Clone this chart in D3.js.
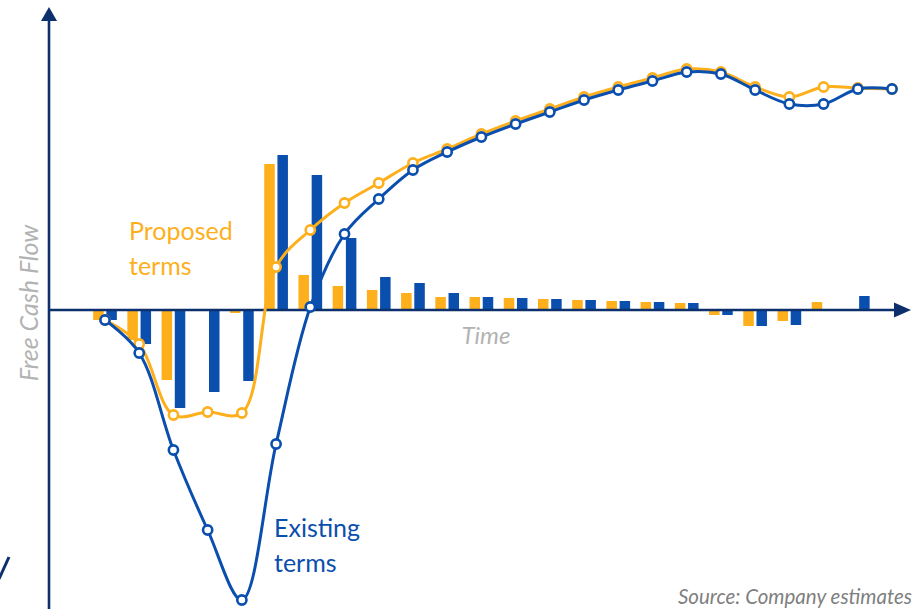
<!DOCTYPE html>
<html>
<head>
<meta charset="utf-8">
<script src="https://cdn.jsdelivr.net/npm/d3@7"></script>
<style>
  html, body { margin: 0; padding: 0; background: #fff; overflow: hidden; }
  svg { display: block; }
  text { font-family: Lato, "Open Sans", sans-serif; }
</style>
</head>
<body>
<svg id="chart" width="915" height="609"></svg>
<script>
// Periods along the time axis
const periods = d3.range(24);

// Annual free cash flow bars
const proposedBars = [-10, -30, -70, 0, -3, 146, 35, 24, 20, 17, 13, 13, 12, 11, 10, 9, 8, 7, -5, -16, -11, 8, 0, 0];
const existingBars = [-10, -34, -98, -82, -71, 155, 135, 72, 33, 27, 17, 13, 12, 11, 10, 9, 8, 7, -5, -16, -15, 0, 14, 0];

// Cumulative free cash flow lines
const proposedLine = [-10, -34, -105, -102, -103, 43, 80, 107, 127, 147, 161, 176, 189, 201, 213, 223, 232, 241, 238, 223, 213, 223, 222, 221];
const existingLine = [-10, -43, -140, -220, -290, -134, 3, 76, 111, 140, 158, 173, 186, 198, 210, 220, 229, 238, 236, 220, 206, 206, 221, 221];

const ORANGE = "#FDAF1C";
const BLUE = "#0B4FAE";
const NAVY = "#0C2F6D";

const svg = d3.select("#chart");

const x = d3.scalePoint().domain(periods).range([105, 892]);
const y = d3.scaleLinear().domain([-300, 310]).range([610, 0]);

const barW = 10.5, barOff = 6.6;

// bars
const barsG = svg.append("g");
function drawBars(vals, color, off) {
  barsG.selectAll(null).data(vals.map((v, i) => ({ i, v })).filter(d => d.v !== 0))
    .enter().append("rect")
    .attr("x", d => x(d.i) + off - barW / 2)
    .attr("width", barW)
    .attr("y", d => y(Math.max(0, d.v)))
    .attr("height", d => Math.abs(y(d.v) - y(0)))
    .attr("fill", color);
}
drawBars(proposedBars, ORANGE, -barOff);
drawBars(existingBars, BLUE, barOff);

// axes with arrowheads
const axG = svg.append("g");
axG.append("line").attr("x1", 49).attr("x2", 49).attr("y1", 18).attr("y2", 609)
  .attr("stroke", NAVY).attr("stroke-width", 2.6);
axG.append("path").attr("d", "M41,21 L49,7 L57,21 Z").attr("fill", NAVY);
axG.append("line").attr("x1", 48).attr("x2", 897).attr("y1", y(0)).attr("y2", y(0))
  .attr("stroke", NAVY).attr("stroke-width", 2.6);
axG.append("path").attr("d", `M894,${y(0) - 7.5} L911,${y(0)} L894,${y(0) + 7.5} Z`).attr("fill", NAVY);

// smoothed lines with hollow markers
const line = d3.line().x((d, i) => x(i)).y(d => y(d)).curve(d3.curveCatmullRom.alpha(0.5));
function drawSeries(vals, color) {
  const g = svg.append("g");
  g.append("path").attr("d", line(vals)).attr("fill", "none")
    .attr("stroke", color).attr("stroke-width", 3);
  g.selectAll("circle").data(vals).enter().append("circle")
    .attr("cx", (d, i) => x(i)).attr("cy", d => y(d)).attr("r", 4.6)
    .attr("fill", "#fff").attr("stroke", color).attr("stroke-width", 2.6);
}
drawSeries(proposedLine, ORANGE);
drawSeries(existingLine, BLUE);

// series labels
const lab1 = svg.append("text").attr("x", 129).attr("y", 240).attr("fill", ORANGE)
  .attr("font-size", 25);
lab1.append("tspan").attr("x", 129).text("Proposed");
lab1.append("tspan").attr("x", 129).attr("dy", 35).text("terms");

const lab2 = svg.append("text").attr("x", 274).attr("y", 537).attr("fill", BLUE)
  .attr("font-size", 25);
lab2.append("tspan").attr("x", 274).text("Existing");
lab2.append("tspan").attr("x", 274).attr("dy", 35).text("terms");

// axis titles
svg.append("text").attr("x", 486).attr("y", 344).attr("text-anchor", "middle")
  .attr("font-size", 24).attr("font-style", "italic").attr("fill", "#B3B3B3").text("Time");
svg.append("text").attr("transform", "translate(38,303) rotate(-90)").attr("text-anchor", "middle")
  .attr("font-size", 25).attr("font-style", "italic").attr("fill", "#B3B3B3").text("Free Cash Flow");

// source note
svg.append("text").attr("x", 912).attr("y", 604).attr("text-anchor", "end")
  .attr("font-size", 20.5).attr("font-style", "italic").attr("fill", "#7F7F7F").text("Source: Company estimates");

// stroke at the left edge, lower corner
svg.append("path").attr("d", "M-1,579 L9,557").attr("stroke", NAVY)
  .attr("stroke-width", 3).attr("fill", "none");
</script>
</body>
</html>
